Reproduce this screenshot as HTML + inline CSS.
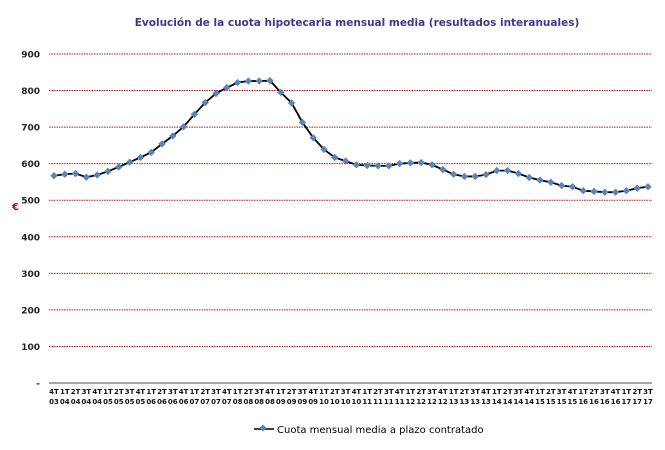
<!DOCTYPE html>
<html><head><meta charset="utf-8"><style>
body{margin:0;background:#fff;width:665px;height:446px;overflow:hidden;font-family:"DejaVu Sans","Liberation Sans",sans-serif}
</style></head><body>
<svg id="c" width="665" height="446" xmlns="http://www.w3.org/2000/svg">
<text x="357" y="26" text-anchor="middle" font-size="10.5" font-weight="bold" fill="#3a3a8c">Evolución de la cuota hipotecaria mensual media (resultados interanuales)</text>
<text x="12" y="210" font-size="10" font-weight="bold" fill="#8b1a1a">€</text>
<g id="grid"></g><g id="series"></g><g id="xl"></g>
<g>
<line x1="254" y1="429" x2="274" y2="429" stroke="#000" stroke-width="1.5"/>
<rect x="260.5" y="425.5" width="5" height="5" fill="#5b84b8" transform="rotate(45 263 428)"/>
<text x="277" y="433" font-size="10" fill="#000">Cuota mensual media a plazo contratado</text>
</g>
</svg>
<script>
const categories=["4T03","1T04","2T04","3T04","4T04","1T05","2T05","3T05","4T05","1T06","2T06","3T06","4T06","1T07","2T07","3T07","4T07","1T08","2T08","3T08","4T08","1T09","2T09","3T09","4T09","1T10","2T10","3T10","4T10","1T11","2T11","3T11","4T11","1T12","2T12","3T12","4T12","1T13","2T13","3T13","4T13","1T14","2T14","3T14","4T14","1T15","2T15","3T15","4T15","1T16","2T16","3T16","4T16","1T17","2T17","3T17"];
const values=[567,571,573,563,569,579,591,604,617,631,654,676,701,735,767,792,808,822,826,826,827,795,766,713,671,639,617,607,597,595,594,594,600,602,603,597,584,571,565,565,570,581,581,573,562,555,549,540,537,526,524,522,522,526,533,537];
const yTicks=[0,100,200,300,400,500,600,700,800,900];
const yTickLabels=["-","100","200","300","400","500","600","700","800","900"];
const NS="http://www.w3.org/2000/svg";
const x0=54,x1=648,yb=383,yt=54;
const X=i=>x0+i*(x1-x0)/(categories.length-1);
const Y=v=>yb-v*(yb-yt)/900;
function mk(t,a,p){const e=document.createElementNS(NS,t);for(const k in a)e.setAttribute(k,a[k]);p.appendChild(e);return e;}
const g=document.getElementById('grid');
yTicks.forEach((v,i)=>{
 if(v>0){const l=mk('line',{x1:49,x2:652,y1:Y(v),y2:Y(v),stroke:'#a02020','stroke-width':1,'stroke-dasharray':'1.5,1'},g);
 
 }
 const t=mk('text',{x:40,y:Y(v)+3.5,'text-anchor':'end','font-size':9,'font-weight':'bold',fill:'#222'},g);
 t.textContent=yTickLabels[i];
 
 
});
const ax=mk('line',{x1:49,x2:652,y1:yb,y2:yb,stroke:'#888','stroke-width':1.5},g);


const s=document.getElementById('series');
const pl=mk('polyline',{points:values.map((v,i)=>X(i)+','+Y(v)).join(' '),fill:'none',stroke:'#000','stroke-width':1.8},s);


values.forEach((v,i)=>{
 const r=mk('rect',{x:X(i)-2.6,y:Y(v)-2.6,width:5.2,height:5.2,fill:'#5b84b8',transform:`rotate(45 ${X(i)} ${Y(v)})`},s);
 
 
});
const xl=document.getElementById('xl');
categories.forEach((c,i)=>{
 const t=mk('text',{x:X(i),y:394,'text-anchor':'middle','font-size':7,'font-weight':'bold',fill:'#111'},xl);
 t.textContent=c.slice(0,2);
 
 
 const u=mk('text',{x:X(i),y:404,'text-anchor':'middle','font-size':7,'font-weight':'bold',fill:'#111'},xl);
 u.textContent=c.slice(2);
 
 
});
</script>
</body></html>
